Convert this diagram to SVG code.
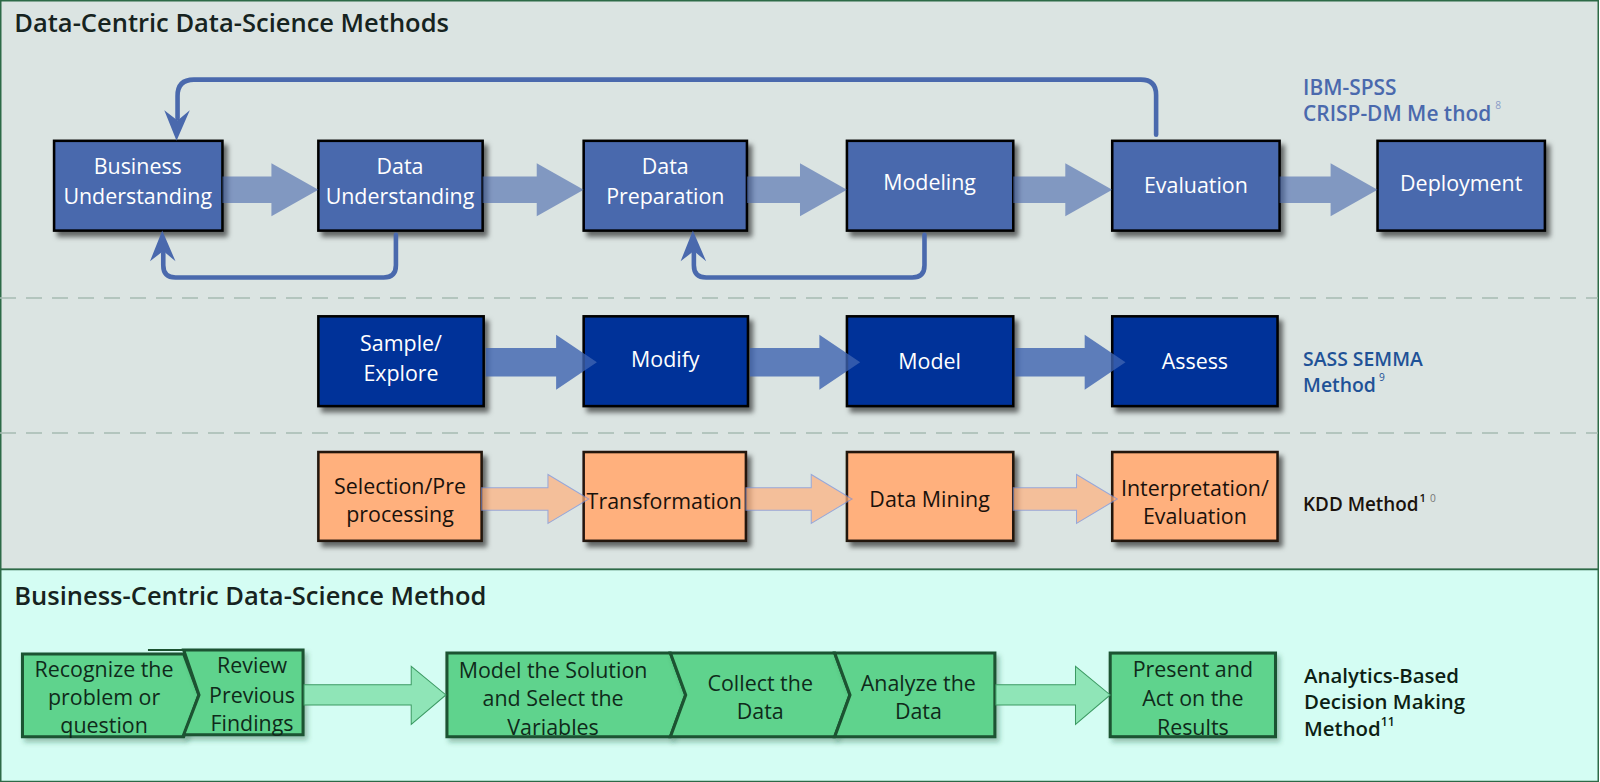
<svg xmlns="http://www.w3.org/2000/svg" width="1600" height="782" viewBox="0 0 1600 782">
<style>
text{font-family:"Open Sans","DejaVu Sans",sans-serif}
.title{font-size:25px;font-weight:600;fill:#162320}
.b1{fill:#4a69ad;stroke:#000;stroke-width:2.5}
.b2{fill:#003399;stroke:#000;stroke-width:2.5}
.b3{fill:#ffb07d;stroke:#24160c;stroke-width:2.5}
.g{fill:#5fd38d;stroke:#1c5230;stroke-width:3;stroke-linejoin:miter}
.tw{fill:#fff;font-size:21px;text-anchor:middle}
.tk{fill:#1a120c;font-size:21px;text-anchor:middle}
.tg{fill:#0f2a1a;font-size:21px;text-anchor:middle}
.a1{fill:#4a69ad;opacity:.62}
.a2{fill:#3d63b0;opacity:.8}
.a3{fill:#ffb07d;opacity:.7;stroke:#7b8fd6;stroke-width:1}
.ag{fill:#8fe5b7;stroke:#3c9a63;stroke-width:1}
.loop{fill:none;stroke:#4a69ad;stroke-width:4.5;stroke-linecap:round}
.head{fill:#4a69ad}
.dash{stroke:#a6bab3;stroke-width:1.6;stroke-dasharray:16 10}
.lbl{font-weight:600}
</style>
<defs>
<filter id="sh" x="-10%" y="-10%" width="130%" height="140%">
<feDropShadow dx="4" dy="5" stdDeviation="2.5" flood-color="#000" flood-opacity="0.55"/>
</filter>
<filter id="shg" x="-10%" y="-10%" width="130%" height="140%">
<feDropShadow dx="3" dy="4" stdDeviation="2.5" flood-color="#1c5230" flood-opacity="0.35"/>
</filter>
</defs>

<g id="panels">
<rect x="0.75" y="0.75" width="1597.5" height="568.5" fill="#dbe4e2" stroke="#2d6a47" stroke-width="1.5"/>
<rect x="0.75" y="569.5" width="1597.5" height="212" fill="#d4fdf3" stroke="#2d6a47" stroke-width="1.5"/>
<line class="dash" x1="0" y1="298" x2="1598" y2="298"/>
<line class="dash" x1="0" y1="433" x2="1598" y2="433"/>
</g>

<g transform="scale(1.0204)">
<g id="titles">
<text class="title" x="14" y="31">Data-Centric Data-Science Methods</text>
<text class="title" x="14" y="593">Business-Centric Data-Science Method</text>
</g>

<g id="labels">
<text class="lbl" font-size="20.5" x="1277" y="93" fill="#4a69ad">IBM-SPSS</text>
<text class="lbl" font-size="20.5" x="1277" y="119" fill="#4a69ad">CRISP-DM Me thod<tspan font-size="10" font-weight="400" dy="-12" dx="4" fill="#8a9cc8">8</tspan></text>
<text class="lbl" font-size="19" x="1277" y="359" fill="#1f5297">SASS SEMMA</text>
<text class="lbl" font-size="19" x="1277" y="384" fill="#1f5297">Method<tspan font-size="10" font-weight="400" dy="-11" dx="3">9</tspan></text>
<text class="lbl" font-size="18.5" x="1277" y="501" fill="#1a120c">KDD Method<tspan font-size="11" dy="-9" dx="1">1</tspan><tspan font-size="10" font-weight="400" dx="4" fill="#777">0</tspan></text>
<text class="lbl" font-size="20" x="1278" y="669" fill="#0d1f14">Analytics-Based</text>
<text class="lbl" font-size="20" x="1278" y="695" fill="#0d1f14">Decision Making</text>
<text class="lbl" font-size="20" x="1278" y="721" fill="#0d1f14">Method<tspan font-size="12" dy="-10">11</tspan></text>
</g>

<g id="n-business"><rect class="b1" x="53" y="138" width="165" height="88" filter="url(#sh)"/><text class="tw" x="135" y="171">Business</text><text class="tw" x="135" y="200">Understanding</text></g>
<g id="n-dataund"><rect class="b1" x="312" y="138" width="161" height="88" filter="url(#sh)"/><text class="tw" x="392" y="171">Data</text><text class="tw" x="392" y="200">Understanding</text></g>
<g id="n-dataprep"><rect class="b1" x="572" y="138" width="160" height="88" filter="url(#sh)"/><text class="tw" x="652" y="171">Data</text><text class="tw" x="652" y="200">Preparation</text></g>
<g id="n-modeling"><rect class="b1" x="830" y="138" width="163" height="88" filter="url(#sh)"/><text class="tw" x="911" y="186">Modeling</text></g>
<g id="n-evaluation"><rect class="b1" x="1090" y="138" width="164" height="88" filter="url(#sh)"/><text class="tw" x="1172" y="189">Evaluation</text></g>
<g id="n-deployment"><rect class="b1" x="1350" y="138" width="164" height="88" filter="url(#sh)"/><text class="tw" x="1432" y="187">Deployment</text></g>

<g id="n-sample"><rect class="b2" x="312" y="310" width="162" height="88" filter="url(#sh)"/><text class="tw" x="393" y="344">Sample/</text><text class="tw" x="393" y="373">Explore</text></g>
<g id="n-modify"><rect class="b2" x="572" y="310" width="161" height="88" filter="url(#sh)"/><text class="tw" x="652" y="360">Modify</text></g>
<g id="n-model"><rect class="b2" x="830" y="310" width="163" height="88" filter="url(#sh)"/><text class="tw" x="911" y="362">Model</text></g>
<g id="n-assess"><rect class="b2" x="1090" y="310" width="162" height="88" filter="url(#sh)"/><text class="tw" x="1171" y="362">Assess</text></g>

<g id="n-selection"><rect class="b3" x="312" y="443" width="160" height="87" filter="url(#sh)"/><text class="tk" x="392" y="484">Selection/Pre</text><text class="tk" x="392" y="512">processing</text></g>
<g id="n-transformation"><rect class="b3" x="572" y="443" width="159" height="87" filter="url(#sh)"/><text class="tk" x="651" y="499">Transformation</text></g>
<g id="n-datamining"><rect class="b3" x="830" y="443" width="163" height="87" filter="url(#sh)"/><text class="tk" x="911" y="497">Data Mining</text></g>
<g id="n-interpretation"><rect class="b3" x="1090" y="443" width="162" height="87" filter="url(#sh)"/><text class="tk" x="1171" y="486">Interpretation/</text><text class="tk" x="1171" y="514">Evaluation</text></g>

<g id="n-recognize"><polygon class="g" points="22,641 180,641 195,681 180,722 22,722" filter="url(#shg)"/><text class="tg" x="102" y="663">Recognize the</text><text class="tg" x="102" y="691">problem or</text><text class="tg" x="102" y="718">question</text></g>
<g id="n-review"><polygon class="g" points="180,637 297,637 297,720 180,720 195,681" filter="url(#shg)"/><line x1="145" y1="637" x2="180" y2="637" stroke="#1c5230" stroke-width="2"/><text class="tg" x="247" y="660">Review</text><text class="tg" x="247" y="689">Previous</text><text class="tg" x="247" y="716">Findings</text></g>
<g id="n-modelsol"><polygon class="g" points="438,640 657,640 672,681 657,722 438,722" filter="url(#shg)"/><text class="tg" x="542" y="664">Model the Solution</text><text class="tg" x="542" y="692">and Select the</text><text class="tg" x="542" y="720">Variables</text></g>
<g id="n-collect"><polygon class="g" points="657,640 818,640 833,681 818,722 657,722 672,681" filter="url(#shg)"/><text class="tg" x="745" y="677">Collect the</text><text class="tg" x="745" y="705">Data</text></g>
<g id="n-analyze"><polygon class="g" points="818,640 975,640 975,722 818,722 833,681" filter="url(#shg)"/><text class="tg" x="900" y="677">Analyze the</text><text class="tg" x="900" y="705">Data</text></g>
<g id="n-present"><rect class="g" x="1088" y="640" width="162" height="82" filter="url(#shg)"/><text class="tg" x="1169" y="663">Present and</text><text class="tg" x="1169" y="692">Act on the</text><text class="tg" x="1169" y="720">Results</text></g>

<g id="connectors">
<polygon class="a1" points="218,173 266,173 266,160 312,186 266,212 266,199 218,199"/>
<polygon class="a1" points="473,173 526,173 526,160 572,186 526,212 526,199 473,199"/>
<polygon class="a1" points="732,173 784,173 784,160 830,186 784,212 784,199 732,199"/>
<polygon class="a1" points="993,173 1044,173 1044,160 1090,186 1044,212 1044,199 993,199"/>
<polygon class="a1" points="1254,173 1304,173 1304,160 1350,186 1304,212 1304,199 1254,199"/>

<polygon class="a2" points="476,341 545,341 545,328 585,355 545,382 545,369 476,369"/>
<polygon class="a2" points="735,341 803,341 803,328 843,355 803,382 803,369 735,369"/>
<polygon class="a2" points="995,341 1063,341 1063,328 1103,355 1063,382 1063,369 995,369"/>

<polygon class="a3" points="472,478 537,478 537,465 577,489 537,513 537,500 472,500"/>
<polygon class="a3" points="731,478 795,478 795,465 835,489 795,513 795,500 731,500"/>
<polygon class="a3" points="993,478 1055,478 1055,465 1095,489 1055,513 1055,500 993,500"/>

<polygon class="ag" points="298,671 403,671 403,653 437,681 403,710 403,691 298,691"/>
<polygon class="ag" points="976,671 1054,671 1054,653 1088,681 1054,710 1054,691 976,691"/>

<path class="loop" d="M1133,132 V93 Q1133,78 1118,78 H190 Q174,78 174,94 V116"/>
<polygon class="head" points="173,138 161,108 174,118 186,108"/>
<path class="loop" d="M388,230 V260 Q388,272 376,272 H172 Q160,272 160,260 V248"/>
<polygon class="head" points="159,226 147,256 160,246 172,256"/>
<path class="loop" d="M906,230 V260 Q906,272 894,272 H692 Q680,272 680,260 V248"/>
<polygon class="head" points="679,226 667,256 680,246 692,256"/>
</g>
</g>
</svg>
